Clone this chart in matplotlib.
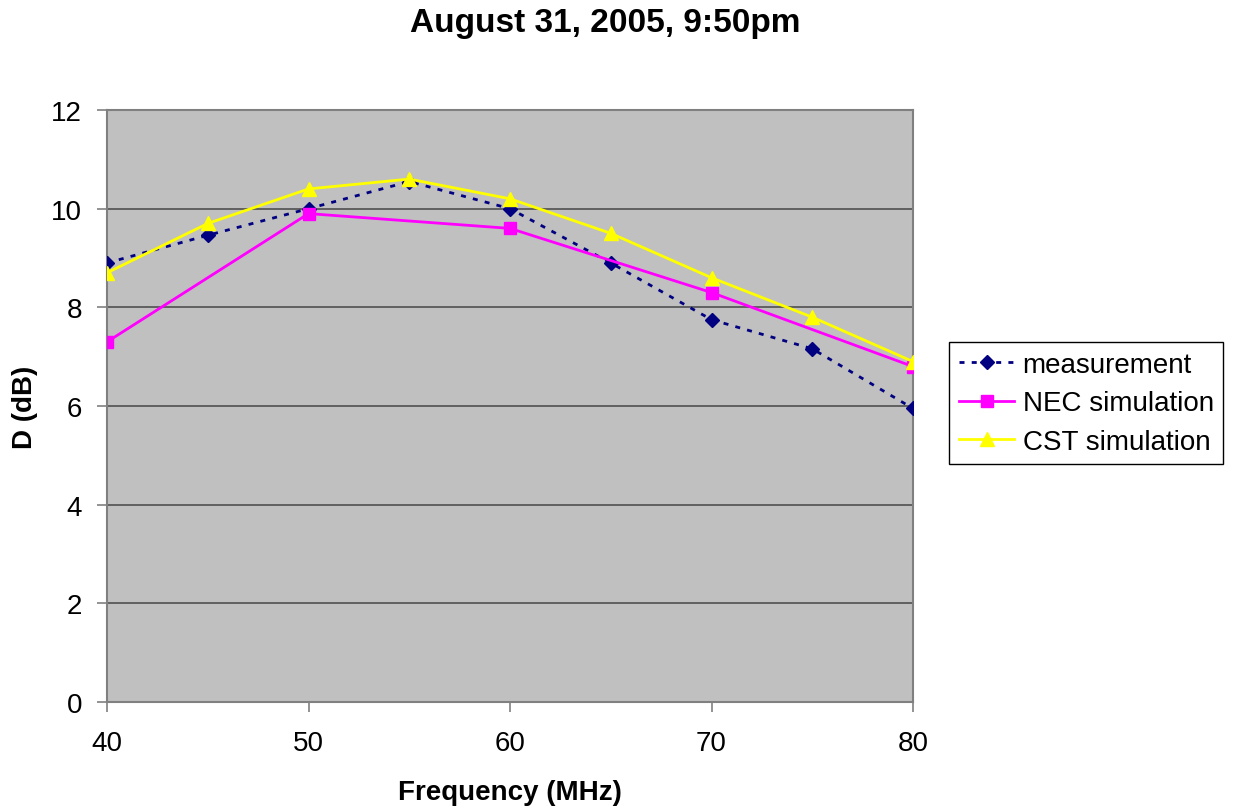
import matplotlib
matplotlib.use("Agg")
import matplotlib.pyplot as plt

plt.rcParams['font.family'] = ['Liberation Sans', 'DejaVu Sans']

# data
freq = [40, 45, 50, 55, 60, 65, 70, 75, 80]
measurement = [8.9, 9.46, 10.0, 10.55, 10.0, 8.9, 7.75, 7.16, 5.95]
nec_freq = [40, 50, 60, 70, 80]
nec_sim = [7.3, 9.9, 9.6, 8.3, 6.8]
cst_sim = [8.7, 9.7, 10.4, 10.6, 10.2, 9.5, 8.6, 7.8, 6.9]

fig = plt.figure(figsize=(12.38, 8.12), dpi=100)
ax = fig.add_axes([107/1238, 1-703/812, (913-107)/1238, (703-111)/812])
ax.set_facecolor('#C0C0C0')

ax.plot(freq, measurement, color='#000080', linestyle=(0, (1.8, 2.6)), linewidth=2,
        marker='D', markersize=7.5, label='measurement', zorder=3)
ax.plot(nec_freq, nec_sim, color='#FF00FF', linewidth=2,
        marker='s', markersize=8.5, label='NEC simulation', zorder=3)
ax.plot(freq, cst_sim, color='#FFFF00', linewidth=2,
        marker='^', markersize=9.5, label='CST simulation', zorder=3)

ax.set_xlim(40, 80)
ax.set_ylim(0, 12)
ax.set_xticks([40, 50, 60, 70, 80])
ax.set_yticks(range(0, 13, 2))
ax.yaxis.grid(True, color='#505050', linewidth=1.2)
ax.set_axisbelow(True)
ax.tick_params(labelsize=20, direction='out', length=7, width=1.2,
               color='#808080', labelcolor='black')
ax.tick_params(axis='x', pad=13)
ax.tick_params(axis='y', pad=11)

for s in ax.spines.values():
    s.set_color('#808080')
    s.set_linewidth(1.5)

ax.set_xlabel('Frequency (MHz)', fontsize=20, fontweight='bold')
ax.set_ylabel('D (dB)', fontsize=20, fontweight='bold')
ax.xaxis.set_label_coords(0.5, -0.152)
ax.yaxis.set_label_coords(-0.102, 0.5)
ax.xaxis.label.set_va('center')
ax.yaxis.label.set_va('center')

fig.text(0.489, 0.971, 'August 31, 2005, 9:50pm', fontsize=24, fontweight='bold',
         ha='center', va='center')

leg = ax.legend(loc='upper left', bbox_to_anchor=(949/1238, 1-343/812),
                bbox_transform=fig.transFigure, borderaxespad=0, fontsize=20,
                fancybox=False, framealpha=1, edgecolor='black', handlelength=2.0,
                handletextpad=0.3, labelspacing=0.45, borderpad=0.35)
leg.get_frame().set_linewidth(1)

fig.savefig('out.png', dpi=100)
